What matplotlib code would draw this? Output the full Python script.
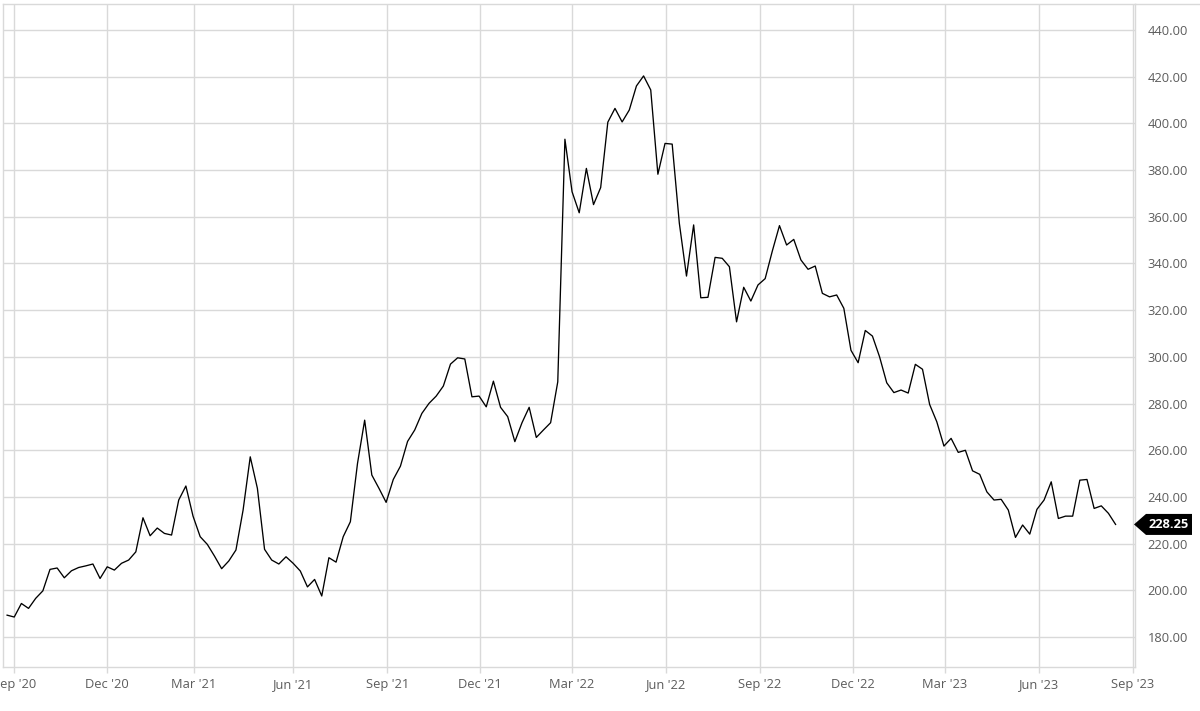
import matplotlib
matplotlib.use("Agg")
import matplotlib.pyplot as plt
import matplotlib.dates as mdates
import matplotlib.patches as mpatches
import matplotlib.transforms as mtransforms
import pandas as pd

# weekly closes
start_date = "2020-08-25"
prices = [
    189.4, 188.6, 194.4, 192.3, 196.6, 199.8, 209.0, 209.6, 205.4, 208.4,
    209.8, 210.5, 211.3, 205.1, 210.1, 208.7, 211.6, 213.0, 216.5, 231.1,
    223.4, 226.7, 224.4, 223.7, 238.7, 244.7, 231.8, 223.0, 219.7, 214.7,
    209.3, 212.6, 217.3, 234.4, 257.2, 243.7, 217.6, 213.0, 211.3, 214.4,
    211.6, 208.3, 201.5, 204.7, 197.6, 214.0, 212.1, 223.0, 229.4, 254.4,
    272.9, 249.4, 243.7, 237.7, 247.5, 253.2, 263.8, 268.7, 275.8, 280.1,
    283.2, 287.5, 296.9, 299.6, 299.1, 282.9, 283.2, 278.6, 289.6, 278.4,
    274.4, 263.7, 271.8, 278.4, 265.5, 268.7, 271.8, 289.3, 393.2, 370.7,
    361.7, 380.7, 365.2, 372.5, 400.5, 406.4, 400.6, 405.7, 416.0, 420.3,
    414.3, 378.2, 391.4, 391.1, 357.2, 334.6, 356.5, 325.3, 325.5, 342.6,
    342.2, 338.6, 315.0, 329.8, 323.9, 330.8, 333.5, 345.3, 356.2, 347.9,
    350.3, 341.5, 337.5, 338.9, 327.2, 325.7, 326.5, 320.8, 302.8, 297.5,
    311.3, 308.9, 300.0, 288.9, 284.7, 285.8, 284.5, 296.8, 294.7, 279.6,
    272.2, 261.8, 265.1, 259.1, 260.0, 251.2, 249.7, 242.2, 238.7, 239.0,
    234.4, 222.7, 228.0, 224.1, 234.7, 238.7, 246.5, 230.8, 231.8, 231.8,
    247.2, 247.5, 235.1, 236.2, 233.0, 228.25,
]
dates = pd.date_range(start_date, periods=len(prices), freq="7D")

# quarter ticks (the Mar '21 one sits a bit early in the source chart)
x_tick_dates = ["2020-09-01", "2020-12-01", "2021-02-24", "2021-06-01",
                "2021-09-01", "2021-12-01", "2022-03-01", "2022-06-01",
                "2022-09-01", "2022-12-01", "2023-03-01", "2023-06-01",
                "2023-09-01"]
x_tick_labels = ["Sep '20", "Dec '20", "Mar '21", "Jun '21", "Sep '21",
                 "Dec '21", "Mar '22", "Jun '22", "Sep '22", "Dec '22",
                 "Mar '23", "Jun '23", "Sep '23"]
y_ticks = list(range(180, 441, 20))

plt.rcParams["font.family"] = ["Open Sans", "DejaVu Sans"]

fig = plt.figure(figsize=(12, 7.11), dpi=100)
ax = fig.add_axes([3 / 1200, 1 - 667 / 711, 1132 / 1200, 663 / 711])

grid_c = "#d9d9d9"
label_c = "#5c5c5c"

ax.plot(dates, prices, color="black", lw=0.95, zorder=3)

ax.set_xlim(pd.Timestamp("2020-08-21"), pd.Timestamp("2023-09-03"))
ax.set_ylim(167.2, 451.1)

ax.set_xticks(pd.to_datetime(x_tick_dates))
ax.set_xticklabels(x_tick_labels)
ax.set_yticks(y_ticks)
ax.set_yticklabels([f"{v:.2f}" for v in y_ticks])

ax.yaxis.tick_right()
ax.tick_params(axis="y", length=0, pad=9, labelsize=9.3, labelcolor=label_c)
ax.tick_params(axis="x", length=4, width=1, color=grid_c, pad=4,
               labelsize=9.3, labelcolor=label_c)

ax.grid(True, color=grid_c, lw=1.0)
ax.set_axisbelow(True)
for s in ax.spines.values():
    s.set_color(grid_c)
    s.set_linewidth(1.0)

# top border runs across the label area
ax.plot([1.0, 1.06], [1.0, 1.0], transform=ax.transAxes, color=grid_c,
        lw=1.0, clip_on=False)

# last value flag
fig.canvas.draw()
px, py = ax.transData.transform((mdates.date2num(dates[-1]), prices[-1]))
x0 = ax.transAxes.transform((1.0, 0))[0] - 1
h = 10.5
verts = [(x0, py), (x0 + 12, py + h), (x0 + 58, py + h),
         (x0 + 58, py - h), (x0 + 12, py - h)]
flag = mpatches.Polygon(verts, closed=True, facecolor="black", edgecolor="none",
                        transform=mtransforms.IdentityTransform())
fig.add_artist(flag)
fig.text(x0 + 35, py, f"{prices[-1]:.2f}", color="white", fontsize=9.3,
         fontweight="bold", ha="center", va="center",
         transform=mtransforms.IdentityTransform())

fig.savefig("out.png", dpi=100)
